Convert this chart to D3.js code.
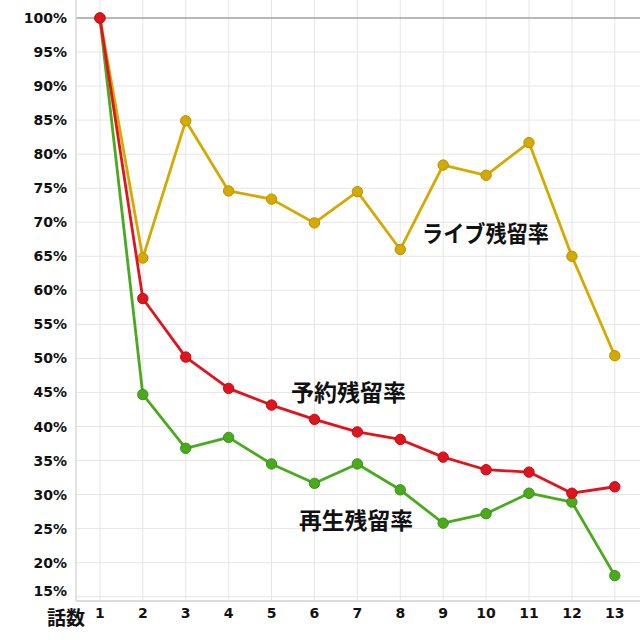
<!DOCTYPE html>
<html><head><meta charset="utf-8">
<script src="https://cdn.jsdelivr.net/npm/d3@7/dist/d3.min.js"></script>
<style>
html,body{margin:0;padding:0;background:#fff;}
svg{display:block;}
</style>
</head><body>
<svg id="chart" width="640" height="640"></svg>
<script>
const episodes = [1,2,3,4,5,6,7,8,9,10,11,12,13];
const liveRate = [100,64.75,84.9,74.6,73.4,69.9,74.5,66.0,78.4,76.9,81.7,65.0,50.4];
const reserveRate = [100,58.8,50.2,45.6,43.15,41.05,39.2,38.1,35.5,33.65,33.3,30.2,31.15];
const playRate = [100,44.7,36.8,38.4,34.5,31.65,34.5,30.7,25.8,27.2,30.2,28.9,18.1];
const yTickValues = [15,20,25,30,35,40,45,50,55,60,65,70,75,80,85,90,95,100];
const seriesNames = ["ライブ残留率","予約残留率","再生残留率"];
const xAxisTitle = "話数";

const svg = d3.select("#chart");
const plotLeft = 76, plotRight = 640, plotTop = 0, plotBottom = 601;
const x = d3.scaleLinear().domain([1,13]).range([99.9,614.8]);
const y = d3.scaleLinear().domain([15,100]).range([596.7,18]);

// grid
const grid = svg.append("g");
grid.selectAll("line.v").data(episodes).join("line")
  .attr("x1", d=>x(d)).attr("x2", d=>x(d)).attr("y1", plotTop).attr("y2", plotBottom)
  .attr("stroke", "#e6e6e6").attr("stroke-width", 1);
grid.selectAll("line.h").data(yTickValues).join("line")
  .attr("x1", plotLeft).attr("x2", plotRight).attr("y1", d=>y(d)).attr("y2", d=>y(d))
  .attr("stroke", d=> d===100 ? "#a0a0a0" : "#e6e6e6").attr("stroke-width", d=> d===100 ? 1.5 : 1);

// axis frame lines
svg.append("line").attr("x1", plotLeft).attr("x2", plotLeft).attr("y1", plotTop).attr("y2", plotBottom)
  .attr("stroke", "#d8d8d8").attr("stroke-width", 1.5);
svg.append("line").attr("x1", plotLeft).attr("x2", plotRight).attr("y1", plotBottom).attr("y2", plotBottom)
  .attr("stroke", "#cfcfcf").attr("stroke-width", 1.5);

// y tick labels
svg.append("g").selectAll("text").data(yTickValues).join("text")
  .attr("x", 67).attr("y", d=> d===15 ? y(d)-6 : y(d))
  .attr("dy", "0.36em").attr("text-anchor", "end")
  .style("font-family", "'DejaVu Sans', Verdana, sans-serif").style("font-weight", "bold")
  .style("font-size", "14px").attr("fill", "#111")
  .text(d=> d + "%");

// x tick labels
svg.append("g").selectAll("text").data(episodes).join("text")
  .attr("x", d=>x(d)).attr("y", 613).attr("dy", "0.36em").attr("text-anchor", "middle")
  .style("font-family", "'DejaVu Sans', Verdana, sans-serif").style("font-weight", "bold")
  .style("font-size", "14px").attr("fill", "#111")
  .text(d=>d);

svg.append("text").attr("x", 47).attr("y", 618).attr("dy", "0.36em")
  .style("font-family", "'Noto Sans CJK JP', sans-serif").style("font-weight", "bold")
  .style("font-size", "19px").attr("fill", "#111").text(xAxisTitle);

const series = [
  {name: seriesNames[2], values: playRate, color: "#4aaa1e", stroke: "#3d9017"},
  {name: seriesNames[0], values: liveRate, color: "#d4aa00", stroke: "#b89200"},
  {name: seriesNames[1], values: reserveRate, color: "#e0141e", stroke: "#c00c15"}
];
const line = d3.line().x((d,i)=>x(episodes[i])).y(d=>y(d));
series.forEach(s=>{
  const g = svg.append("g");
  g.append("path").datum(s.values).attr("d", line).attr("fill","none")
    .attr("stroke", s.color).attr("stroke-width", 2.8).attr("stroke-linejoin","round");
  g.selectAll("circle").data(s.values).join("circle")
    .attr("cx", (d,i)=>x(episodes[i])).attr("cy", d=>y(d)).attr("r", 5.2)
    .attr("fill", s.color).attr("stroke", s.stroke).attr("stroke-width", 1);
});

// series labels
const labels = [
  {text: seriesNames[0], x: 422, y: 234, w: 127},
  {text: seriesNames[1], x: 291, y: 393, w: 115},
  {text: seriesNames[2], x: 299, y: 521, w: 114}
];
svg.append("g").selectAll("text").data(labels).join("text")
  .attr("x", d=>d.x).attr("y", d=>d.y).attr("dy","0.36em")
  .attr("textLength", d=>d.w).attr("lengthAdjust", "spacingAndGlyphs")
  .style("font-family", "'Noto Sans CJK JP', sans-serif").style("font-weight", "bold")
  .style("font-size", "23px").attr("fill", "#111").text(d=>d.text);
</script>
</body></html>
